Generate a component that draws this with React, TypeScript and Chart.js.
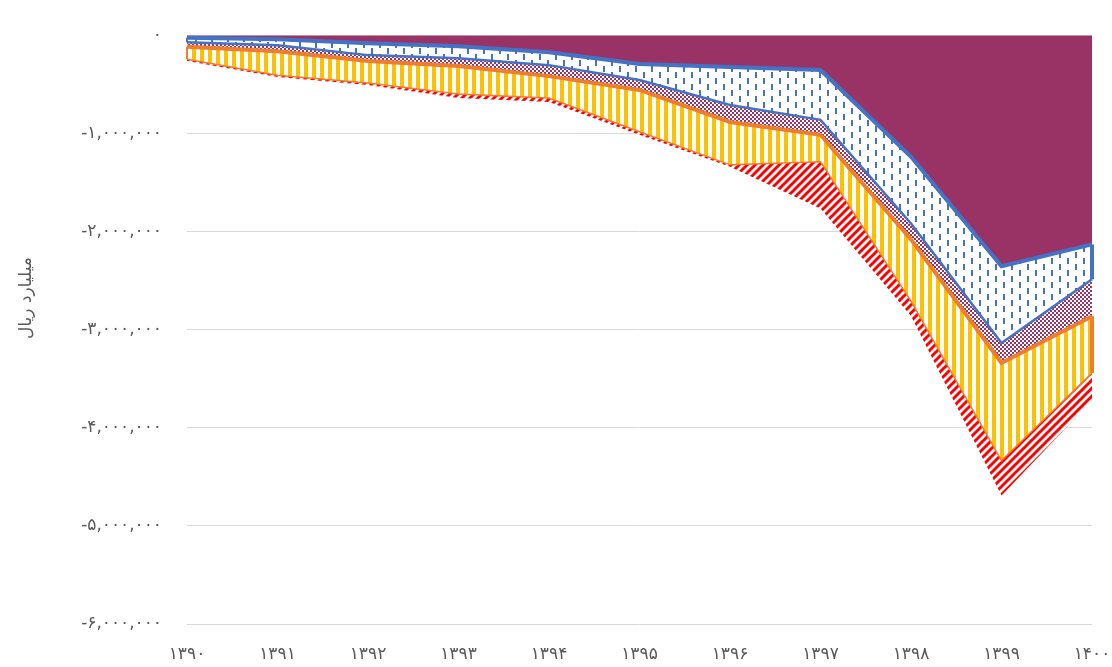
import React, { useEffect, useRef } from "react";
import { Chart, registerables } from "chart.js";

Chart.register(...registerables);

const years = ["۱۳۹۰", "۱۳۹۱", "۱۳۹۲", "۱۳۹۳", "۱۳۹۴", "۱۳۹۵", "۱۳۹۶", "۱۳۹۷", "۱۳۹۸", "۱۳۹۹", "۱۴۰۰"];

const seriesA = [-25000, -41000, -81000, -112000, -173000, -294000, -325000, -355000, -1239000, -2355000, -2132000];
const seriesB = [-46000, -61000, -122000, -122000, -132000, -162000, -386000, -508000, -680000, -782000, -355000];
const seriesC = [-46000, -61000, -61000, -81000, -112000, -102000, -173000, -152000, -162000, -203000, -376000];
const seriesD = [-127000, -244000, -223000, -284000, -223000, -426000, -437000, -274000, -629000, -995000, -579000];
const seriesE = [-20000, -20000, -20000, -41000, -41000, -30000, -20000, -477000, -152000, -355000, -284000];

const yMin = -6000000;
const yMax = 0;
const yStep = 1000000;
const axisTitle = "میلیارد ریال";

const FONT = "'DejaVu Sans', sans-serif";
const TEXT = "#595959";

const faDigits = "۰۱۲۳۴۵۶۷۸۹";
function toFa(n: number): string {
  const s = Math.abs(n).toLocaleString("en-US").replace(/[0-9]/g, (d) => faDigits[+d]);
  return (n < 0 ? "-" : "") + s;
}

function makeTile(w: number, h: number, draw: (c: CanvasRenderingContext2D) => void): CanvasPattern | string {
  const cv = document.createElement("canvas");
  cv.width = w;
  cv.height = h;
  const c = cv.getContext("2d")!;
  c.fillStyle = "#ffffff";
  c.fillRect(0, 0, w, h);
  draw(c);
  const ctx = document.createElement("canvas").getContext("2d")!;
  return ctx.createPattern(cv, "repeat") || "#fff";
}

export default function App() {
  const ref = useRef<HTMLCanvasElement | null>(null);

  useEffect(() => {
    if (!ref.current) return;
    const blueDash = makeTile(16, 12, (c) => {
      c.fillStyle = "#4472C4";
      c.fillRect(3, 0, 2, 6);
      c.fillRect(11, 6, 2, 6);
    });
    const checker = makeTile(4, 4, (c) => {
      c.fillStyle = "#993366";
      c.fillRect(0, 0, 2, 2);
      c.fillRect(2, 2, 2, 2);
    });
    const yellowStripe = makeTile(8, 8, (c) => {
      c.fillStyle = "#FFC000";
      c.fillRect(0, 0, 4, 8);
    });
    const redDiag = makeTile(8, 8, (c) => {
      c.strokeStyle = "#FF0000";
      c.lineWidth = 3;
      c.beginPath();
      c.moveTo(-2, 10);
      c.lineTo(10, -2);
      c.moveTo(-2, 2);
      c.lineTo(2, -2);
      c.moveTo(6, 10);
      c.lineTo(10, 6);
      c.stroke();
    });

    const edgePlugin = {
      id: "edges",
      afterDatasetsDraw(chart: any) {
        const ctx = chart.ctx;
        const m = [0, 1, 2, 3].map((i) => chart.getDatasetMeta(i).data);
        const last = m[0].length - 1;
        ctx.save();
        ctx.lineCap = "butt";
        const seg = (idx: number, a: number, b: number, color: string, w: number) => {
          ctx.strokeStyle = color;
          ctx.lineWidth = w;
          ctx.beginPath();
          ctx.moveTo(m[a][idx].x, m[a][idx].y);
          ctx.lineTo(m[b][idx].x, m[b][idx].y);
          ctx.stroke();
        };
        seg(last, 0, 1, "#4472C4", 4);
        seg(last, 2, 3, "#ED7D31", 4);
        seg(0, 0, 1, "#4472C4", 2);
        seg(0, 2, 3, "#ED7D31", 2);
        ctx.restore();
      },
    };

    const titlePlugin = {
      id: "ytitle",
      afterDraw(chart: any) {
        const ctx = chart.ctx;
        ctx.save();
        ctx.translate(27, 298);
        ctx.rotate(-Math.PI / 2);
        ctx.font = "17px " + FONT;
        ctx.fillStyle = TEXT;
        ctx.textAlign = "center";
        ctx.textBaseline = "middle";
        ctx.fillText(axisTitle, 0, 0);
        ctx.restore();
      },
    };

    const common = { pointRadius: 0, tension: 0 };
    const chart = new Chart(ref.current, {
      type: "line",
      data: {
        labels: years,
        datasets: [
          { ...common, label: "A", data: seriesA, fill: "origin", backgroundColor: "#993366", borderColor: "#4472C4", borderWidth: 4 },
          { ...common, label: "B", data: seriesB, fill: "-1", backgroundColor: blueDash as any, borderColor: "#4472C4", borderWidth: 2.5 },
          { ...common, label: "C", data: seriesC, fill: "-1", backgroundColor: checker as any, borderColor: "#ED7D31", borderWidth: 4 },
          { ...common, label: "D", data: seriesD, fill: "-1", backgroundColor: yellowStripe as any, borderColor: "#ED7D31", borderWidth: 1.5 },
          { ...common, label: "E", data: seriesE, fill: "-1", backgroundColor: redDiag as any, borderColor: "rgba(0,0,0,0)", borderWidth: 0 },
        ],
      },
      options: {
        responsive: false,
        animation: false,
        layout: { padding: { left: 0, right: 20, top: 31, bottom: 0 } },
        plugins: { legend: { display: false }, tooltip: { enabled: false } },
        scales: {
          x: {
            offset: false,
            grid: { display: false, drawTicks: false },
            border: { display: false },
            ticks: { color: TEXT, font: { family: FONT, size: 17 }, padding: 20, maxRotation: 0, autoSkip: false },
            afterFit: (s: any) => { s.height = 43; s.paddingLeft = 0; s.paddingRight = 0; },
          },
          y: {
            stacked: true,
            min: yMin,
            max: yMax,
            grid: { color: "#D9D9D9", lineWidth: 1, drawTicks: false },
            border: { display: false },
            ticks: {
              stepSize: yStep,
              color: TEXT,
              font: { family: FONT, size: 17 },
              padding: 25,
              callback: (v: any) => toFa(Number(v)),
            },
            afterFit: (s: any) => { s.width = 187; },
          },
        },
      },
      plugins: [edgePlugin, titlePlugin],
    });
    return () => chart.destroy();
  }, []);

  return (
    <div style={{ position: "absolute", left: 0, top: 0, width: 1112, height: 667, background: "#fff" }}>
      <canvas ref={ref} width={1112} height={667} />
    </div>
  );
}
